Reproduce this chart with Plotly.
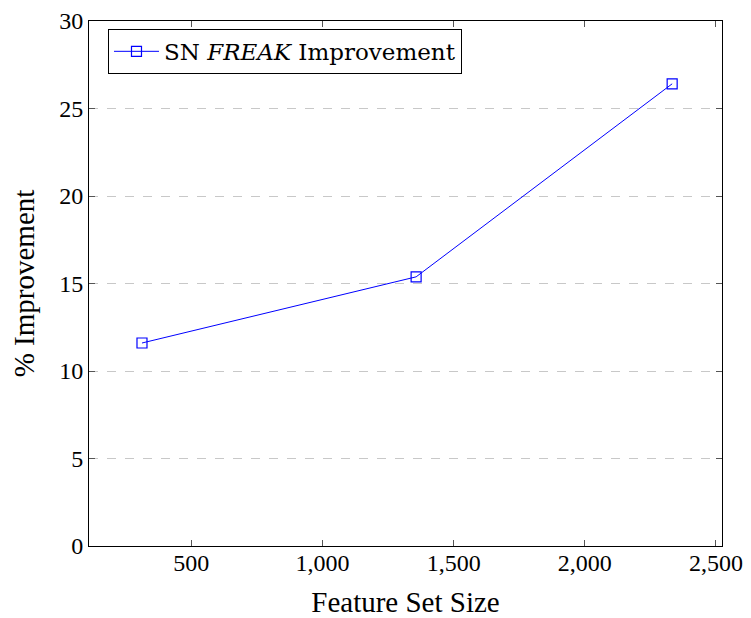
import plotly.graph_objects as go

feature_set_size = [312, 1357, 2333]
improvement = [11.6, 15.38, 26.41]
series_name = "SN <i>FREAK</i> Improvement"
x_ticks = [500, 1000, 1500, 2000, 2500]
y_ticks = [0, 5, 10, 15, 20, 25, 30]

FONT = "Liberation Serif"

fig = go.Figure()
fig.add_trace(go.Scatter(
    x=feature_set_size, y=improvement, mode="lines+markers", name=series_name,
    line=dict(color="#0000ff", width=1),
    marker=dict(symbol="square-open", size=10, color="#0000ff", line=dict(width=1.2)),
))

fig.update_layout(
    width=743, height=610,
    margin=dict(l=81, r=29, t=13, b=72, autoexpand=False),
    plot_bgcolor="white", paper_bgcolor="white",
    font=dict(family=FONT, size=24, color="black"),
    showlegend=True,
    legend=dict(x=0.03, y=0.985, xanchor="left", yanchor="top",
                bordercolor="black", borderwidth=1, bgcolor="white",
                itemwidth=45,
                font=dict(family="DejaVu Serif", size=23)),
    xaxis=dict(range=[110, 2523], tickvals=x_ticks, tickformat=",d", automargin=False,
               showline=True, linecolor="black", linewidth=1, mirror="ticks",
               ticks="inside", ticklen=6, tickcolor="#555", showgrid=False, zeroline=False,
               ticklabelstandoff=-5,
               title=dict(text="Feature Set Size", standoff=17)),
    yaxis=dict(range=[0, 30], tickvals=y_ticks, automargin=False,
               showline=True, linecolor="black", linewidth=1, mirror="ticks",
               ticks="inside", ticklen=6, tickcolor="#555",
               showgrid=True, gridcolor="#c8c8c8", griddash="dash", gridwidth=1, zeroline=False,
               title=dict(text="% Improvement", standoff=39)),
)

fig.write_html("out.html")
